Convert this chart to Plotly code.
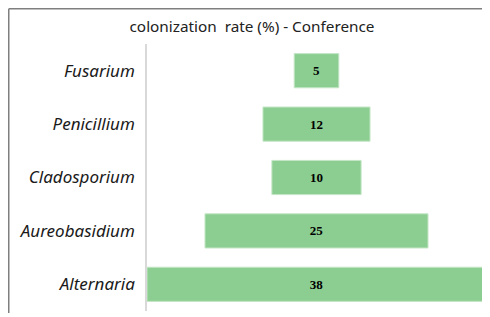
import plotly.graph_objects as go

categories = ["Fusarium", "Penicillium", "Cladosporium", "Aureobasidium", "Alternaria"]
values = [5, 12, 10, 25, 38]
title_text = "colonization\u00a0 rate (%) - Conference"

bases = [-v / 2 for v in values]

fig = go.Figure()
fig.add_trace(go.Bar(
    y=categories,
    x=values,
    base=bases,
    orientation="h",
    width=0.64,
    marker=dict(color="#8cce91", line=dict(color="#c4e6c6", width=1)),
    text=[str(v) for v in values],
    textposition="inside",
    insidetextanchor="middle",
    textangle=0,
    textfont=dict(family="Liberation Serif", size=13, color="black", weight="bold"),
    hoverinfo="skip",
))

# page body has an 8px margin: figure coords = screen coords - 8
OFF = 8
W, H = 490, 317
L = 147 - OFF
R = W - (486 - OFF)
T = 44 - OFF
B = H - (311 - OFF)
pw = W - L - R
ph = H - T - B

fig.update_layout(
    width=W, height=H,
    margin=dict(l=L, r=R, t=T, b=B, autoexpand=False),
    paper_bgcolor="white",
    plot_bgcolor="white",
    showlegend=False,
    title=dict(text=title_text, x=(252 - OFF) / W, xanchor="center",
               y=1 - (27 - OFF) / H, yanchor="middle", automargin=False,
               font=dict(family="Noto Sans", size=15.3, color="#222222")),
    xaxis=dict(range=[-19, 19], visible=False, fixedrange=True, automargin=False),
    yaxis=dict(
        categoryorder="array", categoryarray=categories, autorange="reversed",
        showline=True, linecolor="#d9d9d9", linewidth=1.5,
        showgrid=False, zeroline=False, ticks="",
        ticklabelstandoff=7, automargin=False,
        tickfont=dict(family="Noto Sans", size=17, color="#1a1a1a", style="italic"),
    ),
    bargap=0.36,
)

# outer frame (left and top edges)
x0 = (0.75 - L) / pw
y0 = 1 + (T - 0.75) / ph
fig.add_shape(type="line", xref="paper", yref="paper", x0=x0, x1=(W - L) / pw,
              y0=y0, y1=y0, line=dict(color="#7f7f7f", width=1.5))
fig.add_shape(type="line", xref="paper", yref="paper", x0=x0, x1=x0,
              y0=y0, y1=-((313 - OFF) - (T + ph)) / ph, line=dict(color="#7f7f7f", width=1.5))

fig.write_html("out.html")
